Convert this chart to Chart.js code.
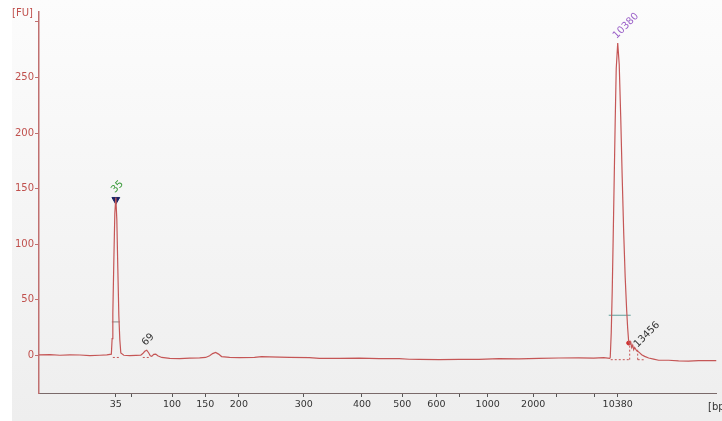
<!DOCTYPE html>
<html>
<head>
<meta charset="utf-8">
<script src="https://cdn.jsdelivr.net/npm/chart.js@4/dist/chart.umd.min.js"></script>
<style>
  html, body { margin: 0; padding: 0; background: #ffffff; }
  #wrap { width: 722px; height: 421px; }
</style>
</head>
<body>
<div id="wrap"><canvas id="elecChart" width="722" height="421"></canvas></div>
<script>
// Trace del electroferograma (posición de migración / FU)
const traceX = [
    0, 11, 21, 31, 41, 51, 61, 68, 72.5,
    73.3, 74, 75, 76, 77, 78, 79, 80, 81, 82,
    85, 91, 97, 102, 104, 106, 108, 110, 111.5, 113, 115, 117, 119, 123,
    131, 141, 151, 161, 167, 171, 174, 177, 180, 183, 191, 201, 216, 223,
    231, 251, 271, 281, 301, 321, 341, 361, 371, 381, 401, 421, 441, 461,
    481, 501, 521, 541, 556, 566, 572,
    572.5, 573.5, 574.5, 575.5, 576.5, 577.5, 578.5, 580, 581.5, 583, 584.5,
    586, 587.5, 589, 590, 591, 592, 593, 594, 595, 596, 597, 599, 601, 604,
    607, 611, 616, 621, 631, 641, 651, 661, 671, 679
];
const traceY = [
    0.3, 0.5, 0, 0.4, 0.2, -0.3, 0, 0.3, 1,
    15, 38, 85, 128, 142, 122, 78, 36, 14, 2,
    0, -0.4, -0.2, 0, 1.5, 3.5, 4.5, 2, -0.5, -1, 0.8, 1, -0.5, -2,
    -2.8, -3, -2.6, -2.4, -2, -0.5, 1.5, 2.5, 1, -1.2, -2, -2.2, -2, -1.2,
    -1.5, -2, -2.2, -2.8, -2.8, -2.6, -3, -3, -3.6, -3.8, -3.9, -3.7, -3.8, -3,
    -3.2, -2.8, -2.5, -2.3, -2.6, -2.2, -2.8,
    -2, 20, 58, 108, 160, 212, 258, 281, 262, 215, 160,
    110, 70, 40, 24, 12, 10, 12, 7, 9, 5, 7, 4, 3, 0.5,
    -1, -2.5, -3.5, -4.5, -4.5, -5, -5.3, -4.8, -4.8, -4.8
];

// Ejes
const xTickPos = [77, 93, 133.3, 166.7, 200.3, 265.3, 323.7, 364, 398.3, 421, 449.7, 495.3, 518.7, 557, 580];
const xTickLabels = ['35', '', '100', '150', '200', '300', '400', '500', '600', '', '1000', '2000', '', '', '10380'];
const yTickValues = [0, 50, 100, 150, 200, 250, 300];

// Picos marcados
const peakLabels = ['35', '69', '10380', '13456'];
const peakX = [77, 108, 580, 601];
const peakY = [142, 4.5, 281, 3];
const peakColors = ['#3a9a3a', '#333333', '#9a5fc8', '#333333'];

const trace = traceX.map((x, i) => ({ x, y: traceY[i] }));
const seg = (x1, y1, x2, y2) => [{ x: x1, y: y1 }, { x: x2, y: y2 }];

const bgPlugin = {
    id: 'bg',
    beforeDraw(chart) {
        const c = chart.ctx;
        c.save();
        c.fillStyle = '#ffffff';
        c.fillRect(0, 0, chart.width, chart.height);
        const g = c.createLinearGradient(0, 0, 0, chart.height);
        g.addColorStop(0, '#fcfcfc');
        g.addColorStop(1, '#eeeeee');
        c.fillStyle = g;
        c.fillRect(12, 0, chart.width - 12, chart.height);
        c.restore();
    }
};

const labelPlugin = {
    id: 'peakLabels',
    afterDatasetsDraw(chart) {
        const c = chart.ctx;
        const xs = chart.scales.x, ys = chart.scales.y;
        c.save();
        c.font = '10px "DejaVu Sans"';
        c.textAlign = 'left';
        c.textBaseline = 'middle';
        peakLabels.forEach((t, i) => {
            const px = xs.getPixelForValue(peakX[i]) - 3;
            const py = ys.getPixelForValue(peakY[i]) - 6;
            c.save();
            c.translate(px, py);
            c.rotate(-45 * Math.PI / 180);
            c.fillStyle = peakColors[i];
            c.fillText(t, 0, 0);
            c.restore();
        });
        // Unidades de los ejes
        c.fillStyle = '#c0504d';
        c.textBaseline = 'alphabetic';
        c.fillText('[FU]', 12, 16);
        c.fillStyle = '#333333';
        c.textBaseline = 'middle';
        c.fillText('[bp]', 708, 407);
        c.restore();
    }
};

new Chart(document.getElementById('elecChart'), {
    type: 'line',
    data: {
        datasets: [
            { data: trace, borderColor: '#c55656', borderWidth: 1.2, pointRadius: 0, tension: 0 },
            { data: seg(73, 30, 81, 30), borderColor: '#8a8a8a', borderWidth: 1, pointRadius: 0 },
            { data: seg(571, 36, 593, 36), borderColor: '#5f9e9a', borderWidth: 1.2, pointRadius: 0 },
            { data: seg(74, -2, 81, -2), borderColor: '#c55656', borderWidth: 1, borderDash: [2, 2], pointRadius: 0 },
            { data: seg(104, -2, 111, -2), borderColor: '#c55656', borderWidth: 1, borderDash: [2, 2], pointRadius: 0 },
            { data: seg(573, -4, 592, -4), borderColor: '#c55656', borderWidth: 1, borderDash: [2, 2], pointRadius: 0 },
            { data: seg(592, -4, 592, 11), borderColor: '#c55656', borderWidth: 1, borderDash: [2, 2], pointRadius: 0 },
            { data: seg(600, -4, 600, 5), borderColor: '#c55656', borderWidth: 1, borderDash: [2, 2], pointRadius: 0 },
            { data: seg(600, -4, 606, -4), borderColor: '#c55656', borderWidth: 1, borderDash: [2, 2], pointRadius: 0 },
            { data: [{ x: 77, y: 140 }], showLine: false, pointStyle: 'triangle', rotation: 180,
              pointRadius: 4.5, pointBackgroundColor: '#1c2566', pointBorderColor: '#1c2566' },
            { data: [{ x: 591, y: 11 }], showLine: false, pointRadius: 2,
              pointBackgroundColor: '#d03030', pointBorderColor: '#d03030' }
        ]
    },
    options: {
        responsive: false,
        animation: false,
        layout: { padding: { top: 12, right: 4, left: 0, bottom: 0 } },
        plugins: { legend: { display: false }, tooltip: { enabled: false } },
        scales: {
            x: {
                type: 'linear',
                min: 0,
                max: 679,
                afterBuildTicks: scale => { scale.ticks = xTickPos.map(v => ({ value: v })); },
                afterFit: scale => { scale.height = 28; },
                border: { display: true, color: '#7a6a6a', width: 1 },
                grid: { drawOnChartArea: false, drawTicks: true, tickLength: 4, color: '#555555' },
                ticks: {
                    autoSkip: false,
                    maxRotation: 0,
                    padding: 2,
                    color: '#333333',
                    font: { family: 'DejaVu Sans', size: 9.5 },
                    callback: v => {
                        const i = xTickPos.indexOf(v);
                        return i >= 0 ? xTickLabels[i] : '';
                    }
                }
            },
            y: {
                min: -34,
                max: 309,
                afterBuildTicks: scale => { scale.ticks = yTickValues.map(v => ({ value: v })); },
                afterFit: scale => { scale.width = 39; },
                border: { display: true, color: '#c07070', width: 1.5 },
                grid: { drawOnChartArea: false, drawTicks: true, tickLength: 4, color: '#c07070' },
                ticks: {
                    padding: 1,
                    color: '#c0504d',
                    font: { family: 'DejaVu Sans', size: 10 },
                    callback: v => (v === 300 ? '' : v)
                }
            }
        }
    },
    plugins: [bgPlugin, labelPlugin]
});
</script>
</body>
</html>
